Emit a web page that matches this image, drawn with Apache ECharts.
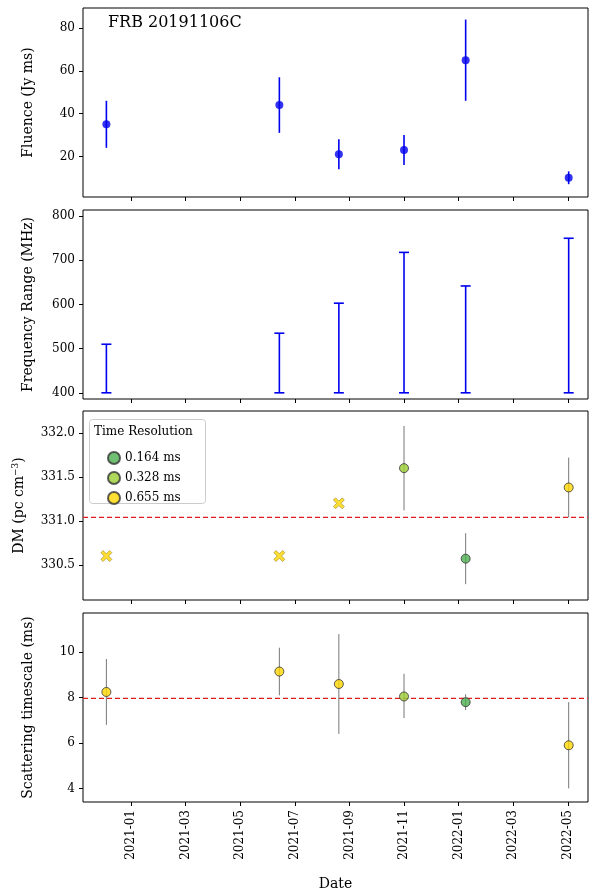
<!DOCTYPE html>
<html><head><meta charset="utf-8">
<script src="https://cdn.jsdelivr.net/npm/echarts@6/dist/echarts.min.js"></script>
<style>html,body{margin:0;padding:0;background:#fff}#c{width:598px;height:895px}</style>
</head><body><div id="c"></div>
<script>
// burst dates
var dates = ['2020-12-04','2021-06-14','2021-08-20','2021-11-01','2022-01-09','2022-05-02'];
// fluence (Jy ms) with low/high
var fluence = [35, 44, 21, 23, 65, 10];
var fluLo = [24, 31, 14, 16, 46, 7];
var fluHi = [46, 57, 28, 30, 84, 13];
// frequency range (MHz)
var fLo = [400, 400, 400, 400, 400, 400];
var fHi = [510, 535, 603, 718, 642, 750];
// DM
var dm = [330.6, 330.6, 331.2, 331.6, 330.57, 331.38];
var dmLo = [null, null, null, 331.12, 330.28, 331.04];
var dmHi = [null, null, null, 332.08, 330.86, 331.72];
var dmMark = ['x', 'x', 'x', 'o', 'o', 'o'];
var dmRes = [2, 2, 2, 1, 0, 2];
var dmMean = 331.04;
// scattering (ms)
var scat = [8.25, 9.15, 8.6, 8.05, 7.8, 5.9];
var scLo = [6.8, 8.1, 6.4, 7.1, 7.45, 4.0];
var scHi = [9.7, 10.2, 10.8, 9.05, 8.15, 7.8];
var scRes = [2, 2, 2, 1, 0, 2];
var scMean = 7.97;
// legend
var resNames = ['0.164 ms', '0.328 ms', '0.655 ms'];
var resColors = ['#4caf50', '#9acd32', '#ffd700'];
// x ticks (months since 2021-01)
var tickVals = [0, 2, 4, 6, 8, 10, 12, 14, 16];
var tickLabels = ['2021-01','2021-03','2021-05','2021-07','2021-09','2021-11','2022-01','2022-03','2022-05'];
// y ticks per panel
var yTicks = [[20, 40, 60, 80], [400, 500, 600, 700, 800], [330.5, 331, 331.5, 332], [4, 6, 8, 10]];
var yRange = [[1, 89.4], [386, 814], [330.1, 332.25], [3.4, 11.73]];
var yNames = ['Fluence (Jy ms)', 'Frequency Range (MHz)', 'DM (pc cm{sup|−3})', 'Scattering timescale (ms)'];

function mon(s) {
  var p = s.split('-').map(Number);
  var dim = new Date(p[0], p[1], 0).getDate();
  return (p[0] - 2021) * 12 + (p[1] - 1) + (p[2] - 1) / dim;
}
var xs = dates.map(mon);
var XMIN = -1.76, XMAX = 16.74;
var FONT = 'DejaVu Serif';

var tops = [8, 210, 411, 613], H = 189;
var grids = tops.map(function (t) {
  return {left: 83, right: 10, top: t, height: H, show: true, borderColor: '#000', borderWidth: 1, backgroundColor: 'transparent'};
});
var xAxes = tops.map(function (t, i) {
  return {
    type: 'value', gridIndex: i, min: XMIN, max: XMAX,
    splitLine: {show: false}, axisLine: {show: false, onZero: false},
    axisTick: {show: true, customValues: tickVals, inside: false, length: 4, lineStyle: {color: '#000'}},
    axisLabel: {show: i === 3, customValues: tickVals, rotate: 90, fontFamily: FONT, fontSize: 12, color: '#000',
      formatter: function (v) { return tickLabels[tickVals.indexOf(Math.round(v))]; }},
    name: i === 3 ? 'Date' : '', nameLocation: 'middle', nameGap: 75,
    nameTextStyle: {fontFamily: FONT, fontSize: 14, color: '#000'}
  };
});
var yAxes = tops.map(function (t, i) {
  return {
    type: 'value', gridIndex: i, min: yRange[i][0], max: yRange[i][1],
    splitLine: {show: false}, axisLine: {show: false, onZero: false},
    axisTick: {show: true, customValues: yTicks[i], length: 4, lineStyle: {color: '#000'}},
    axisLabel: {customValues: yTicks[i], fontFamily: FONT, fontSize: 12, color: '#000',
      formatter: function (v) { return i === 2 ? v.toFixed(1) : String(v); }},
    name: yNames[i], nameLocation: 'middle', nameGap: i === 2 ? 55 : 48,
    nameTextStyle: {fontFamily: FONT, fontSize: 14, color: '#000',
      rich: {sup: {fontFamily: FONT, fontSize: 9, verticalAlign: 'top', padding: [0, 0, 8, 0]}}}
  };
});

function errSeries(gi, lo, hi, color, cap, width) {
  var data = [];
  for (var i = 0; i < xs.length; i++) if (lo[i] != null) data.push([xs[i], lo[i], hi[i]]);
  return {
    type: 'custom', xAxisIndex: gi, yAxisIndex: gi, data: data, silent: true,
    encode: {x: 0, y: [1, 2]},
    renderItem: function (params, api) {
      var a = api.coord([api.value(0), api.value(1)]);
      var b = api.coord([api.value(0), api.value(2)]);
      var kids = [{type: 'line', shape: {x1: a[0], y1: a[1], x2: b[0], y2: b[1]}, style: {stroke: color, lineWidth: width}}];
      if (cap) {
        kids.push({type: 'line', shape: {x1: a[0] - 5, y1: a[1], x2: a[0] + 5, y2: a[1]}, style: {stroke: color, lineWidth: width}});
        kids.push({type: 'line', shape: {x1: b[0] - 5, y1: b[1], x2: b[0] + 5, y2: b[1]}, style: {stroke: color, lineWidth: width}});
      }
      return {type: 'group', children: kids};
    }
  };
}
var X_PATH = 'path://M2,0 L5,3 L8,0 L10,2 L7,5 L10,8 L8,10 L5,7 L2,10 L0,8 L3,5 L0,2 Z';
function pts(gi, ys, res, marks) {
  return {
    type: 'scatter', xAxisIndex: gi, yAxisIndex: gi, z: 5,
    data: ys.map(function (y, i) {
      var isX = marks && marks[i] === 'x';
      return {value: [xs[i], y], symbol: isX ? X_PATH : 'circle', symbolSize: isX ? 11 : 9,
        itemStyle: {color: resColors[res[i]], borderColor: isX ? '#7a6a00' : '#333', borderWidth: isX ? 0.6 : 1}};
    })
  };
}
function hline(gi, v) {
  return {type: 'line', xAxisIndex: gi, yAxisIndex: gi, data: [[XMIN, v], [XMAX, v]], symbol: 'none',
    lineStyle: {color: '#e41a1c', type: [5, 3], width: 1.2}, z: 1};
}
var series = [
  errSeries(0, fluLo, fluHi, '#0000ee', false, 1.6),
  {type: 'scatter', xAxisIndex: 0, yAxisIndex: 0, symbolSize: 8, itemStyle: {color: '#0000ee'},
    data: fluence.map(function (v, i) { return [xs[i], v]; })},
  errSeries(1, fLo, fHi, '#0000ee', true, 1.6),
  hline(2, dmMean),
  errSeries(2, dmLo, dmHi, '#777', false, 1),
  pts(2, dm, dmRes, dmMark),
  hline(3, scMean),
  errSeries(3, scLo, scHi, '#777', false, 1),
  pts(3, scat, scRes, null)
];
// legend dummy series
resNames.forEach(function (n, i) {
  series.push({type: 'scatter', name: n, xAxisIndex: 2, yAxisIndex: 2, data: [],
    itemStyle: {color: resColors[i], borderColor: '#333', borderWidth: 1}});
});

var chart = echarts.init(document.getElementById('c'));
chart.setOption({
  animation: false,
  grid: grids, xAxis: xAxes, yAxis: yAxes, series: series,
  legend: {data: resNames, orient: 'vertical', left: 102, top: 446, itemGap: 6, icon: 'circle', z: 20,
    itemWidth: 12, itemHeight: 12, textStyle: {fontFamily: FONT, fontSize: 12, color: '#000'}},
  graphic: [
    {type: 'rect', left: 89, top: 419, shape: {width: 116, height: 84, r: 3},
      style: {fill: '#fff', stroke: '#ccc', lineWidth: 1}, z: 10},
    {type: 'text', left: 94, top: 426, style: {text: 'Time Resolution', fontFamily: FONT, fontSize: 12, fill: '#000'}, z: 11},
    {type: 'text', left: 108, top: 15, style: {text: 'FRB 20191106C', fontFamily: FONT, fontSize: 16, fill: '#000'}, z: 11}
  ]
});
</script></body></html>
